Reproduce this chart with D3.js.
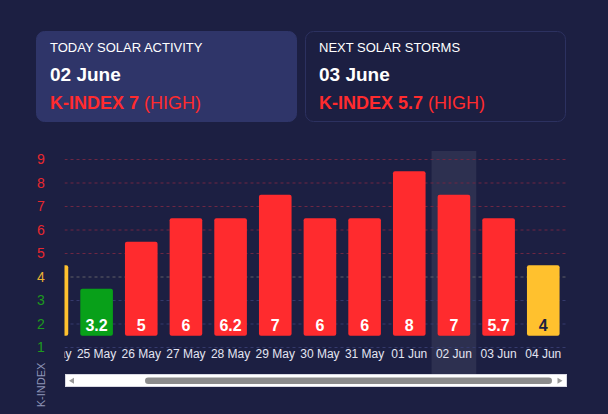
<!DOCTYPE html>
<html>
<head>
<meta charset="utf-8">
<script src="https://cdn.jsdelivr.net/npm/d3@7"></script>
<style>
  html, body { margin: 0; padding: 0; background: #1c1f42; }
  svg { display: block; font-family: "Liberation Sans", Arial, sans-serif; }
</style>
</head>
<body>
<div id="chart"></div>
<script>
// days shown in the chart (first one is scrolled half out of view)
const days = ['24 May', '25 May', '26 May', '27 May', '28 May', '29 May', '30 May',
  '31 May', '01 Jun', '02 Jun', '03 Jun', '04 Jun'];
const kIndex = [4, 3.2, 5, 6, 6.2, 7, 6, 6, 8, 7, 5.7, 4];
const levelTicks = [1, 2, 3, 4, 5, 6, 7, 8, 9];
const selectedDay = '02 Jun';

const cards = [
  { title: 'TODAY SOLAR ACTIVITY', date: '02 June', value: '7', level: 'HIGH' },
  { title: 'NEXT SOLAR STORMS', date: '03 June', value: '5.7', level: 'HIGH' }
];

const W = 608, H = 414;
const RED = '#ff2b2e', YELLOW = '#ffc12e', GREEN = '#08a019';

const levelColor = l => l >= 5 ? RED : (l === 4 ? YELLOW : GREEN);
const tickColor = l => l >= 5 ? '#e8282f' : (l === 4 ? '#e9b234' : '#1d9a1d');
const gridColor = l => l >= 5 ? '#6e2743' : (l === 4 ? '#5f5f66' : '#353a6c');

const svg = d3.select('#chart').append('svg')
  .attr('width', W)
  .attr('height', H);

svg.append('rect').attr('width', W).attr('height', H).attr('fill', '#1c1f42');

// header cards
const cardX = [36.5, 305.5];
cards.forEach((c, i) => {
  const g = svg.append('g').attr('transform', `translate(${cardX[i]}, 31.5)`);
  g.append('rect')
    .attr('width', 260)
    .attr('height', 90)
    .attr('rx', 8)
    .attr('fill', i === 0 ? '#2f3569' : '#1c1f42')
    .attr('stroke', i === 0 ? '#2f3569' : '#2c3160')
    .attr('stroke-width', 1);
  g.append('text')
    .attr('x', 13.5).attr('y', 20)
    .attr('fill', '#ffffff')
    .attr('font-size', 13)
    .text(c.title);
  g.append('text')
    .attr('x', 13.5).attr('y', 49.5)
    .attr('fill', '#ffffff')
    .attr('font-size', 19)
    .attr('font-weight', 'bold')
    .text(c.date);
  const t = g.append('text')
    .attr('x', 13.5).attr('y', 77.5)
    .attr('fill', RED)
    .attr('font-size', 18);
  t.append('tspan').attr('font-weight', 'bold').text('K-INDEX ' + c.value);
  t.append('tspan').text(' (' + c.level + ')');
});

// scales
const x = d3.scaleBand()
  .domain(days)
  .range([29.6, 565.6])
  .paddingInner(0.27)
  .paddingOuter(0.135);

const y = d3.scaleLinear()
  .domain([1, 9])
  .range([347.5, 159.5]);

const plotLeft = 64.5, plotRight = 566;

svg.append('clipPath').attr('id', 'plotClip')
  .append('rect')
  .attr('x', plotLeft).attr('y', 140)
  .attr('width', plotRight - plotLeft).attr('height', 240);

// y axis labels
const yAxis = svg.append('g')
  .attr('transform', 'translate(41, 0)')
  .call(d3.axisLeft(y).tickValues(levelTicks).tickSize(0).tickPadding(0));
yAxis.select('.domain').remove();
yAxis.selectAll('text')
  .attr('text-anchor', 'middle')
  .attr('font-family', '"Liberation Sans", Arial, sans-serif')
  .attr('font-size', 14)
  .attr('fill', d => tickColor(d));

svg.append('text')
  .attr('transform', 'translate(44.5, 385) rotate(-90)')
  .attr('text-anchor', 'middle')
  .attr('fill', '#8e95b8')
  .attr('font-size', 11)
  .text('K-INDEX');

const plot = svg.append('g').attr('clip-path', 'url(#plotClip)');

// highlight of the selected day
plot.append('rect')
  .attr('x', x(selectedDay) - x.step() * x.paddingInner() / 2)
  .attr('y', 151)
  .attr('width', x.step())
  .attr('height', 223)
  .attr('fill', '#ffffff')
  .attr('fill-opacity', 0.08);

// grid
plot.selectAll('.grid')
  .data(levelTicks)
  .join('line')
  .attr('class', 'grid')
  .attr('x1', plotLeft).attr('x2', plotRight)
  .attr('y1', d => y(d)).attr('y2', d => y(d))
  .attr('stroke', d => gridColor(d))
  .attr('stroke-dasharray', '3,3')
  .attr('stroke-width', 1);

// bars: each bar fills up to the top of its rounded K-index level band
const level = v => Math.round(v);
const base = y(1.5);

plot.selectAll('.bar')
  .data(days.map((d, i) => ({ day: d, v: kIndex[i] })))
  .join('rect')
  .attr('class', 'bar')
  .attr('x', d => x(d.day))
  .attr('y', d => y(level(d.v) + 0.5))
  .attr('width', x.bandwidth())
  .attr('height', d => base - y(level(d.v) + 0.5))
  .attr('rx', 2)
  .attr('fill', d => levelColor(level(d.v)));

plot.selectAll('.val')
  .data(days.map((d, i) => ({ day: d, v: kIndex[i] })))
  .join('text')
  .attr('class', 'val')
  .attr('x', d => x(d.day) + x.bandwidth() / 2)
  .attr('y', 330.5)
  .attr('text-anchor', 'middle')
  .attr('font-size', 16)
  .attr('font-weight', 'bold')
  .attr('fill', d => level(d.v) === 4 ? '#1c1f42' : '#ffffff')
  .text(d => d.v);

// x axis labels
const xAxis = plot.append('g')
  .attr('transform', 'translate(0, 349)')
  .call(d3.axisBottom(x).tickSize(0).tickPadding(0));
xAxis.select('.domain').remove();
xAxis.selectAll('text')
  .attr('font-family', '"Liberation Sans", Arial, sans-serif')
  .attr('font-size', 12)
  .attr('fill', '#e3e5f2');

// scrollbar
const sb = svg.append('g');
sb.append('rect')
  .attr('x', 65.5).attr('y', 374.5)
  .attr('width', 501).attr('height', 12)
  .attr('fill', '#ffffff')
  .attr('stroke', '#d9d9e3');
sb.append('rect')
  .attr('x', 145).attr('y', 377.5)
  .attr('width', 407).attr('height', 6.5)
  .attr('rx', 3.25)
  .attr('fill', '#8c8c8c');
sb.append('path')
  .attr('d', 'M69,380.7 L74,377.7 L74,383.7 Z')
  .attr('fill', '#999999');
sb.append('path')
  .attr('d', 'M562.5,380.7 L557.5,377.7 L557.5,383.7 Z')
  .attr('fill', '#999999');
</script>
</body>
</html>
